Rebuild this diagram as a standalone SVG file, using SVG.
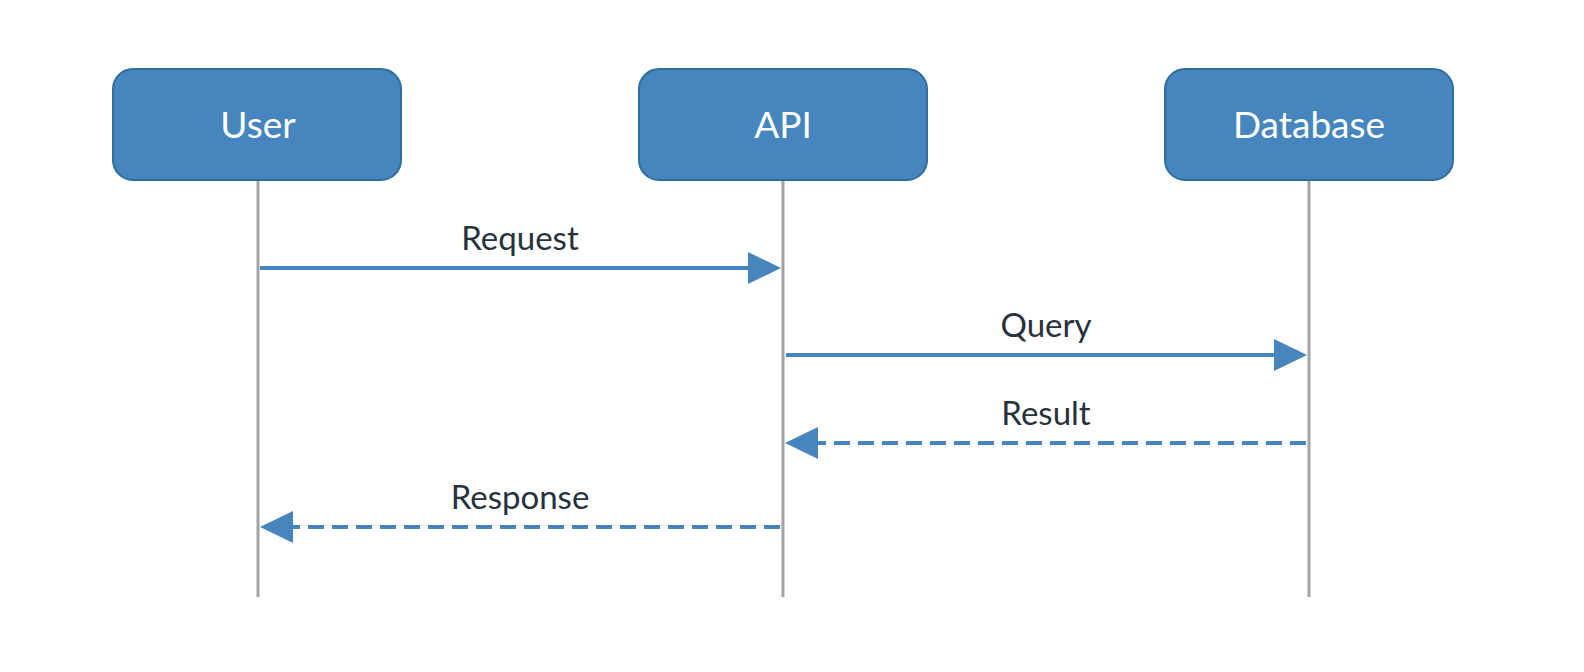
<svg xmlns="http://www.w3.org/2000/svg" width="1584" height="672" viewBox="0 0 1584 672">
<style>
.box{fill:#4685bd;stroke:#2e6f9a;stroke-width:2}
.bt{fill:#fff;font-family:Lato,"Liberation Sans",sans-serif;font-size:37px;text-anchor:middle}
.life{stroke:#a3a3a3;stroke-width:3}
.msg{stroke:#4685bd;stroke-width:4;fill:none}
.dash{stroke-dasharray:16 8}
.lbl{fill:#25313d;font-family:Lato,"Liberation Sans",sans-serif;font-size:33px;text-anchor:middle}
</style>
<rect width="1584" height="672" fill="#fff"/>
<g id="lifelines">
<line class="life" x1="258" y1="180" x2="258" y2="597"/>
<line class="life" x1="783" y1="180" x2="783" y2="597"/>
<line class="life" x1="1309" y1="180" x2="1309" y2="597"/>
</g>
<g id="user"><rect class="box" x="113" y="69" width="288" height="111" rx="20"/><text class="bt" x="258" y="138">User</text></g>
<g id="api"><rect class="box" x="639" y="69" width="288" height="111" rx="20"/><text class="bt" x="783" y="138">API</text></g>
<g id="database"><rect class="box" x="1165" y="69" width="288" height="111" rx="20"/><text class="bt" x="1309" y="138">Database</text></g>
<g id="connectors">
<path class="msg" d="M260,268 H752"/><path d="M781,268 L748,252 L748,284 z" fill="#4685bd"/>
<text class="lbl" x="520" y="250">Request</text>
<path class="msg" d="M786,355 H1278"/><path d="M1307,355 L1274,339 L1274,371 z" fill="#4685bd"/>
<text class="lbl" x="1046" y="337">Query</text>
<path class="msg dash" d="M1306,443 H814"/><path d="M785,443 L818,427 L818,459 z" fill="#4685bd"/>
<text class="lbl" x="1046" y="425">Result</text>
<path class="msg dash" d="M780,527 H289"/><path d="M260,527 L293,511 L293,543 z" fill="#4685bd"/>
<text class="lbl" x="520" y="509">Response</text>
</g>
</svg>
